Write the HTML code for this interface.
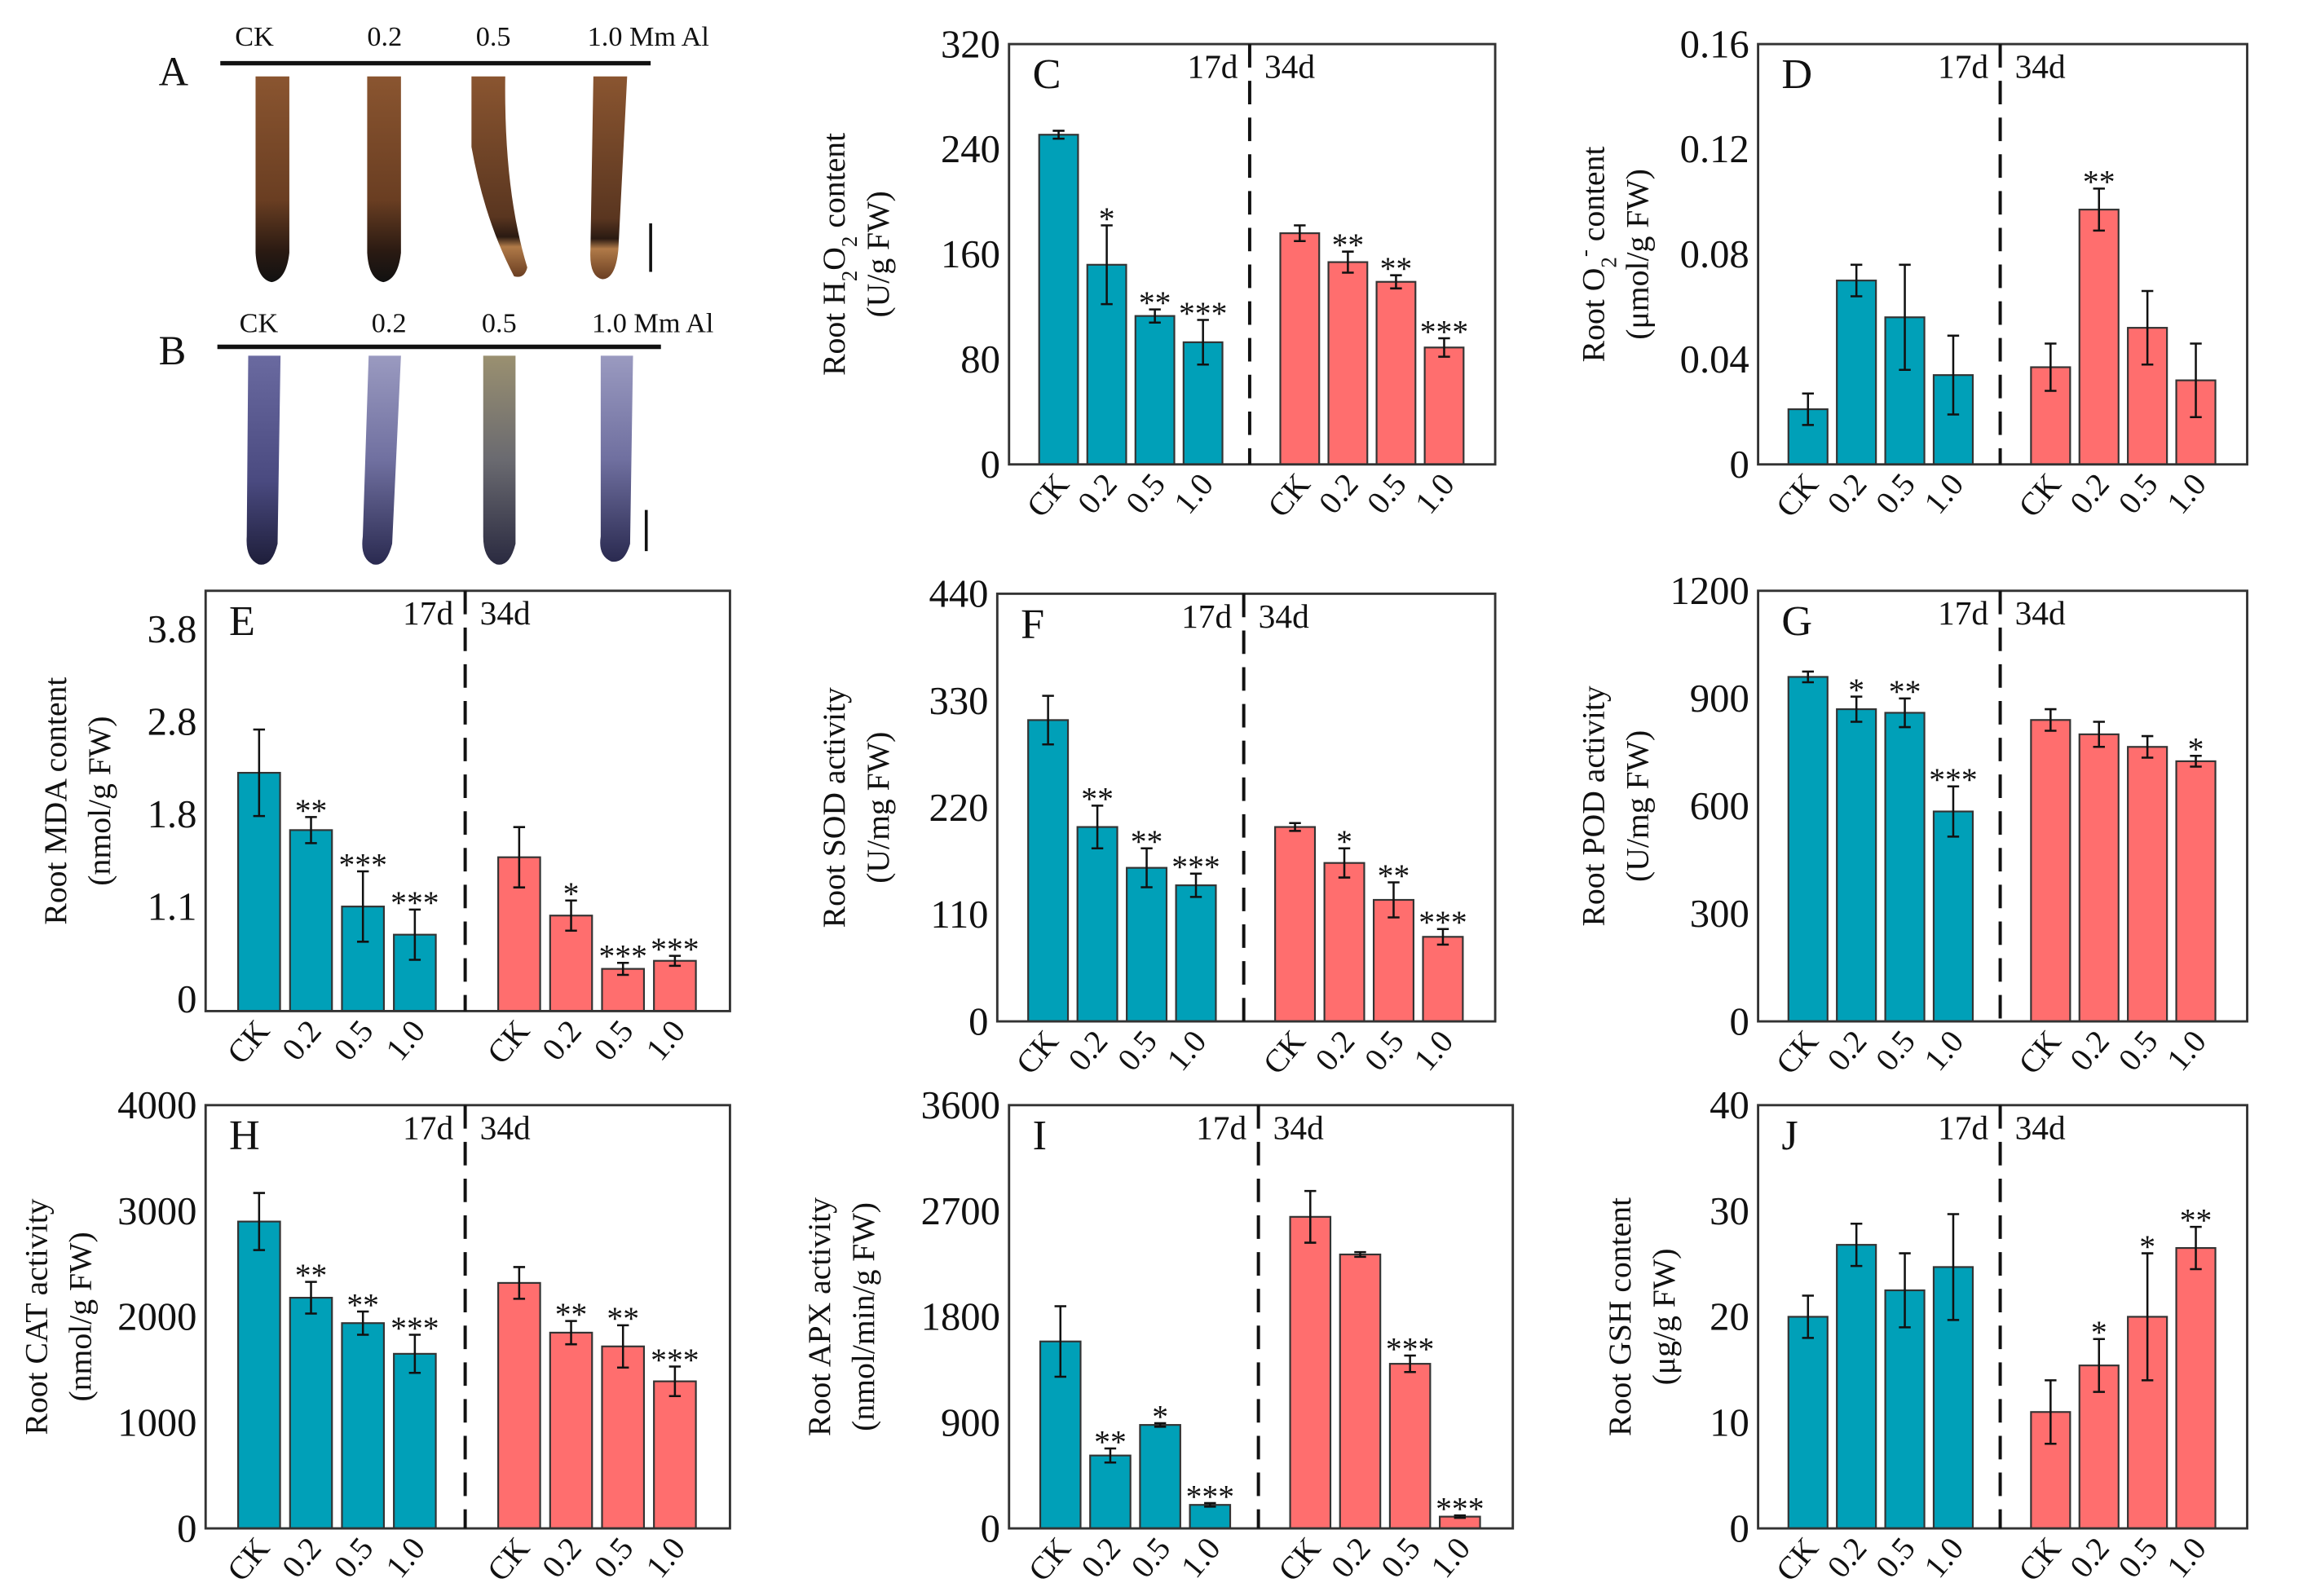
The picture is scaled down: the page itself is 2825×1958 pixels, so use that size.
<!DOCTYPE html>
<html><head><meta charset="utf-8"><style>
html,body{margin:0;padding:0;background:#fff}
svg{display:block}
text{font-family:"Liberation Serif",serif;fill:#111}
</style></head><body>
<svg id="fig" width="2825" height="1958" viewBox="0 0 1568 1086" preserveAspectRatio="none" xmlns="http://www.w3.org/2000/svg">
<defs>
<linearGradient id="brown" x1="0" y1="0" x2="0" y2="1"><stop offset="0" stop-color="#8a5530"/><stop offset="0.6" stop-color="#6a3e22"/><stop offset="0.85" stop-color="#2a1a12"/><stop offset="1" stop-color="#111"/></linearGradient>
<linearGradient id="brown2" x1="0" y1="0" x2="0" y2="1"><stop offset="0" stop-color="#8a5530"/><stop offset="0.7" stop-color="#5a3620"/><stop offset="0.8" stop-color="#2a1a12"/><stop offset="0.85" stop-color="#b07a48"/><stop offset="1" stop-color="#6a3e22"/></linearGradient>
<linearGradient id="blue" x1="0" y1="0" x2="0" y2="1"><stop offset="0" stop-color="#6a6aa0"/><stop offset="0.6" stop-color="#4a4a80"/><stop offset="1" stop-color="#1e1e3a"/></linearGradient>
<linearGradient id="blue2" x1="0" y1="0" x2="0" y2="1"><stop offset="0" stop-color="#9a9ac0"/><stop offset="0.5" stop-color="#7070a0"/><stop offset="1" stop-color="#2a2a50"/></linearGradient>
<linearGradient id="olive" x1="0" y1="0" x2="0" y2="1"><stop offset="0" stop-color="#9a9070"/><stop offset="0.5" stop-color="#6a6a70"/><stop offset="1" stop-color="#2a2a40"/></linearGradient>
</defs>
<g>
<text x="108" y="58" font-size="28">A</text>
<text x="160" y="31" font-size="19">CK</text>
<text x="250" y="31" font-size="19">0.2</text>
<text x="324" y="31" font-size="19">0.5</text>
<text x="400" y="31" font-size="19">1.0 Mm Al</text>
<line x1="150" y1="43" x2="443" y2="43" stroke="#111" stroke-width="3"/>
<path d="M174 52 H197 V172 Q195 190 185 192 Q175 190 174 172 Z" fill="url(#brown)"/>
<path d="M250 52 H273 V172 Q271 190 261 192 Q251 190 250 172 Z" fill="url(#brown)"/>
<path d="M321 52 H344 Q343 130 359 182 Q357 190 350 188 Q330 150 321 100 Z" fill="url(#brown2)"/>
<path d="M404 52 H427 L421 170 Q419 190 410 190 Q401 188 402 170 Z" fill="url(#brown2)"/>
<line x1="443" y1="152" x2="443" y2="185" stroke="#111" stroke-width="2"/>
</g>
<g>
<text x="108" y="248" font-size="28">B</text>
<text x="163" y="226" font-size="19">CK</text>
<text x="253" y="226" font-size="19">0.2</text>
<text x="328" y="226" font-size="19">0.5</text>
<text x="403" y="226" font-size="19">1.0 Mm Al</text>
<line x1="148" y1="236" x2="450" y2="236" stroke="#111" stroke-width="3"/>
<path d="M169 242 H191 L189 370 Q185 386 176 384 Q167 380 168 365 Z" fill="url(#blue)"/>
<path d="M251 242 H273 L267 370 Q263 386 254 384 Q245 380 247 365 Z" fill="url(#blue2)"/>
<path d="M329 242 H351 L351 370 Q347 386 338 384 Q329 380 329 365 Z" fill="url(#olive)"/>
<path d="M409 242 H431 L429 370 Q425 384 416 382 Q407 378 409 365 Z" fill="url(#blue2)"/>
<line x1="440" y1="347" x2="440" y2="375" stroke="#111" stroke-width="2"/>
</g>
</svg>
<script>
const categories = ["CK","0.2","0.5","1.0"];
// C
const cTicks=[0,80,160,240,320]; const cV17=[251,152,113,93]; const cE17=[3,30,5,17]; const cS17=["","*","**","***"];
const cV34=[176,154,139,89]; const cE34=[6,8,5,7]; const cS34=["","**","**","***"];
// D
const dTicks=[0,0.04,0.08,0.12,0.16]; const dV17=[0.021,0.070,0.056,0.034]; const dE17=[0.006,0.006,0.020,0.015]; const dS17=["","","",""];
const dV34=[0.037,0.097,0.052,0.032]; const dE34=[0.009,0.008,0.014,0.014]; const dS34=["","**","",""];
// E (tick labels evenly spaced in original figure)
const eTicks=[0,1.1,1.8,2.8,3.8]; const eV17=[2.37,1.80,1.04,0.76]; const eE17=[0.43,0.13,0.35,0.25]; const eS17=["","**","***","***"];
const eV34=[1.53,0.95,0.42,0.50]; const eE34=[0.30,0.15,0.06,0.05]; const eS34=["","*","***","***"];
const eAxisMax=4.18;
// F
const fTicks=[0,110,220,330,440]; const fV17=[310,200,158,140]; const fE17=[25,22,20,12]; const fS17=["","**","**","***"];
const fV34=[200,163,125,87]; const fE34=[4,15,18,8]; const fS34=["","*","**","***"];
// G
const gTicks=[0,300,600,900,1200]; const gV17=[960,870,860,585]; const gE17=[15,35,40,70]; const gS17=["","*","**","***"];
const gV34=[840,800,765,725]; const gE34=[30,35,30,15]; const gS34=["","","","*"];
// H
const hTicks=[0,1000,2000,3000,4000]; const hV17=[2900,2180,1940,1650]; const hE17=[270,150,110,180]; const hS17=["","**","**","***"];
const hV34=[2320,1850,1720,1390]; const hE34=[150,110,200,140]; const hS34=["","**","**","***"];
// I
const iTicks=[0,900,1800,2700,3600]; const iV17=[1590,620,880,200]; const iE17=[300,60,15,15]; const iS17=["","**","*","***"];
const iV34=[2650,2330,1400,100]; const iE34=[220,20,70,10]; const iS34=["","","***","***"];
// J
const jTicks=[0,10,20,30,40]; const jV17=[20,26.8,22.5,24.7]; const jE17=[2,2,3.5,5]; const jS17=["","","",""];
const jV34=[11,15.4,20,26.5]; const jE34=[3,2.5,6,2]; const jS34=["","*","*","**"];

const NS="http://www.w3.org/2000/svg";
const svg=document.getElementById('fig');
function mk(tag,attrs,parent){const e=document.createElementNS(NS,tag);for(const k in attrs)e.setAttribute(k,attrs[k]);(parent||svg).appendChild(e);return e;}

function panel(p){
  const g=mk('g',{});
  
  
  const W=p.x1-p.x0;
  const ymax=p.axisMax||p.ticks[p.ticks.length-1];
  const y=v=>p.yb-(v/ymax)*(p.yb-p.yt);
  const bw=W*0.08, pitch=W*0.099;
  const gs=[p.x0+W*0.062,p.x0+W*0.558];
  const xd=p.x0+W*0.495;
  p.ticks.forEach((t,ti)=>{
    let ty=y(t);
    if(p.evenLabels){ty=p.evenLabels[0]+(p.evenLabels[1]-p.evenLabels[0])*ti/(p.ticks.length-1);}
    const tl=mk('text',{x:p.x0-6,y:ty+9,'font-size':27,'text-anchor':'end'},g);
    
    
    tl.textContent=String(t);
  });
  const series=[[p.v17,p.e17,p.s17,'#00a0b8','17d'],[p.v34,p.e34,p.s34,'#ff6e6e','34d']];
  series.forEach((s,si)=>{
    s[0].forEach((v,i)=>{
      const bx=gs[si]+i*pitch, cx=bx+bw/2;
      const r=mk('rect',{x:bx,y:y(v),width:bw,height:p.yb-y(v),fill:s[3],stroke:'#333','stroke-width':1.2},g);
      
      
      const e=s[1][i];
      const eb=mk('path',{d:`M${cx} ${y(v+e)}V${y(v-e)}M${cx-4} ${y(v+e)}H${cx+4}M${cx-4} ${y(v-e)}H${cx+4}`,stroke:'#111','stroke-width':1.4,fill:'none'},g);
      
      
      if(s[2][i]){
        const st=mk('text',{x:cx,y:y(v+e)+3,'font-size':22,'text-anchor':'middle','font-family':'Liberation Sans, sans-serif'},g);
        
        
        st.textContent=s[2][i];
      }
      const xl=mk('text',{x:0,y:0,'font-size':22,'text-anchor':'end',transform:`translate(${cx+8},${p.yb+14}) rotate(-50)`},g);
      
      
      xl.textContent=categories[i];
    });
  });
  const box=mk('rect',{x:p.x0,y:p.yt,width:W,height:p.yb-p.yt,fill:'none',stroke:'#333','stroke-width':1.6},g);
  
  
  const dl=mk('line',{x1:xd,y1:p.yt,x2:xd,y2:p.yb,stroke:'#111','stroke-width':2.2,'stroke-dasharray':'16,9'},g);
  
  
  const lt=mk('text',{x:p.x0+16,y:p.yt+30,'font-size':29},g);
  
  
  lt.textContent=p.id;
  const d1=mk('text',{x:xd-8,y:p.yt+23,'font-size':23,'text-anchor':'end'},g);
  
  
  d1.textContent='17d';
  const d2=mk('text',{x:xd+10,y:p.yt+23,'font-size':23},g);
  
  
  d2.textContent='34d';
  const cy=(p.yt+p.yb)/2;
  const t1=mk('text',{x:0,y:0,'font-size':22,'text-anchor':'middle',transform:`translate(${p.tx},${cy}) rotate(-90)`},g);
  
  
  t1.innerHTML=p.t1;
  const t2=mk('text',{x:0,y:0,'font-size':22,'text-anchor':'middle',transform:`translate(${p.tx+30},${cy}) rotate(-90)`},g);
  
  
  t2.textContent=p.t2;
}
panel({id:'C',x0:687,x1:1018,yt:30,yb:316,ticks:cTicks,v17:cV17,e17:cE17,s17:cS17,v34:cV34,e34:cE34,s34:cS34,tx:575,t1:'Root H<tspan baseline-shift="sub" font-size="15">2</tspan>O<tspan baseline-shift="sub" font-size="15">2</tspan> content',t2:'(U/g FW)'});
panel({id:'D',x0:1197,x1:1530,yt:30,yb:316,ticks:dTicks,v17:dV17,e17:dE17,s17:dS17,v34:dV34,e34:dE34,s34:dS34,tx:1092,t1:'Root O<tspan baseline-shift="sub" font-size="15">2</tspan><tspan baseline-shift="super" font-size="15">-</tspan> content',t2:'(μmol/g FW)'});
panel({id:'E',x0:140,x1:497,yt:402,yb:688,axisMax:eAxisMax,evenLabels:[680,428],ticks:eTicks,v17:eV17,e17:eE17,s17:eS17,v34:eV34,e34:eE34,s34:eS34,tx:45,t1:'Root MDA content',t2:'(nmol/g FW)'});
panel({id:'F',x0:679,x1:1018,yt:404,yb:695,ticks:fTicks,v17:fV17,e17:fE17,s17:fS17,v34:fV34,e34:fE34,s34:fS34,tx:575,t1:'Root SOD activity',t2:'(U/mg FW)'});
panel({id:'G',x0:1197,x1:1530,yt:402,yb:695,ticks:gTicks,v17:gV17,e17:gE17,s17:gS17,v34:gV34,e34:gE34,s34:gS34,tx:1092,t1:'Root POD activity',t2:'(U/mg FW)'});
panel({id:'H',x0:140,x1:497,yt:752,yb:1040,ticks:hTicks,v17:hV17,e17:hE17,s17:hS17,v34:hV34,e34:hE34,s34:hS34,tx:32,t1:'Root CAT activity',t2:'(nmol/g FW)'});
panel({id:'I',x0:687,x1:1030,yt:752,yb:1040,ticks:iTicks,v17:iV17,e17:iE17,s17:iS17,v34:iV34,e34:iE34,s34:iS34,tx:565,t1:'Root APX activity',t2:'(nmol/min/g FW)'});
panel({id:'J',x0:1197,x1:1530,yt:752,yb:1040,ticks:jTicks,v17:jV17,e17:jE17,s17:jS17,v34:jV34,e34:jE34,s34:jS34,tx:1110,t1:'Root GSH content',t2:'(μg/g  FW)'});
</script>
</body></html>
